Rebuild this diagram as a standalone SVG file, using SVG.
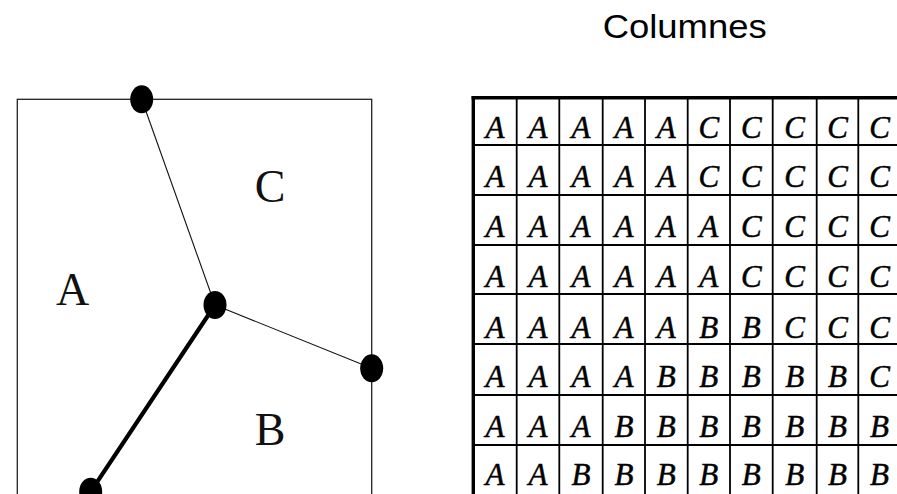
<svg xmlns="http://www.w3.org/2000/svg" width="897" height="494" viewBox="0 0 897 494">
<style>
.frame{fill:none;stroke:#222;stroke-width:1.3}
.thin{stroke:#111;stroke-width:1.1;fill:none}
.thick{stroke:#000;stroke-width:4.2;fill:none}
.dot{fill:#000}
.region{font-family:"Liberation Serif",serif;font-size:46px;fill:#111;text-anchor:middle}
.title{font-family:"Liberation Sans",Arial,sans-serif;font-size:32.5px;fill:#000}
.cell{font-family:"Liberation Serif",serif;font-style:italic;font-size:31px;fill:#000;stroke:#000;stroke-width:0.5;text-anchor:middle}
.grid{stroke:#000;stroke-width:1.8}
.border{stroke:#000;stroke-width:3.4}
</style>
<rect width="897" height="494" fill="#fff"/>

<g id="map">
  <rect class="frame" x="17.3" y="99.3" width="354.4" height="420"/>
  <text class="region" x="72.5" y="305">A</text>
  <text class="region" x="270" y="201.7">C</text>
  <text class="region" x="270" y="445">B</text>
</g>

<g id="connectors">
  <line class="thin" x1="141.7" y1="99.3" x2="215" y2="305"/>
  <line class="thin" x1="215" y1="305" x2="371.7" y2="368.3"/>
  <line class="thick" x1="215" y1="305" x2="90.7" y2="491.7"/>
</g>

<g id="node-top"><ellipse class="dot" cx="141.7" cy="99.3" rx="11.5" ry="14"/></g>
<g id="node-center"><ellipse class="dot" cx="215" cy="305" rx="11.5" ry="14"/></g>
<g id="node-right"><ellipse class="dot" cx="371.7" cy="368.3" rx="11.5" ry="14"/></g>
<g id="node-bottom"><ellipse class="dot" cx="90.7" cy="491.7" rx="11.5" ry="14"/></g>

<g id="title">
  <text class="title" x="602.7" y="38.3" textLength="164" lengthAdjust="spacingAndGlyphs">Columnes</text>
</g>

<g id="table">
  <g class="grid">
    <line x1="516.7" y1="98" x2="516.7" y2="494"/>
    <line x1="559.3" y1="98" x2="559.3" y2="494"/>
    <line x1="602.7" y1="98" x2="602.7" y2="494"/>
    <line x1="645" y1="98" x2="645" y2="494"/>
    <line x1="687.7" y1="98" x2="687.7" y2="494"/>
    <line x1="730" y1="98" x2="730" y2="494"/>
    <line x1="772.7" y1="98" x2="772.7" y2="494"/>
    <line x1="816.7" y1="98" x2="816.7" y2="494"/>
    <line x1="858.3" y1="98" x2="858.3" y2="494"/>
    <line x1="473" y1="145" x2="897" y2="145"/>
    <line x1="473" y1="195" x2="897" y2="195"/>
    <line x1="473" y1="245" x2="897" y2="245"/>
    <line x1="473" y1="294" x2="897" y2="294"/>
    <line x1="473" y1="344" x2="897" y2="344"/>
    <line x1="473" y1="395" x2="897" y2="395"/>
    <line x1="473" y1="445" x2="897" y2="445"/>
  </g>
  <g class="border">
    <line x1="471.6" y1="97.7" x2="897" y2="97.7"/>
    <line x1="473.3" y1="96" x2="473.3" y2="494"/>
  </g>
  <g class="cell">
    <text y="138.3"><tspan x="495">A</tspan><tspan x="538">A</tspan><tspan x="581">A</tspan><tspan x="624">A</tspan><tspan x="666.3">A</tspan><tspan x="708.8">C</tspan><tspan x="751.3">C</tspan><tspan x="794.7">C</tspan><tspan x="837.5">C</tspan><tspan x="879.5">C</tspan></text>
    <text y="186.7"><tspan x="495">A</tspan><tspan x="538">A</tspan><tspan x="581">A</tspan><tspan x="624">A</tspan><tspan x="666.3">A</tspan><tspan x="708.8">C</tspan><tspan x="751.3">C</tspan><tspan x="794.7">C</tspan><tspan x="837.5">C</tspan><tspan x="879.5">C</tspan></text>
    <text y="236.7"><tspan x="495">A</tspan><tspan x="538">A</tspan><tspan x="581">A</tspan><tspan x="624">A</tspan><tspan x="666.3">A</tspan><tspan x="708.8">A</tspan><tspan x="751.3">C</tspan><tspan x="794.7">C</tspan><tspan x="837.5">C</tspan><tspan x="879.5">C</tspan></text>
    <text y="286.7"><tspan x="495">A</tspan><tspan x="538">A</tspan><tspan x="581">A</tspan><tspan x="624">A</tspan><tspan x="666.3">A</tspan><tspan x="708.8">A</tspan><tspan x="751.3">C</tspan><tspan x="794.7">C</tspan><tspan x="837.5">C</tspan><tspan x="879.5">C</tspan></text>
    <text y="338.3"><tspan x="495">A</tspan><tspan x="538">A</tspan><tspan x="581">A</tspan><tspan x="624">A</tspan><tspan x="666.3">A</tspan><tspan x="708.8">B</tspan><tspan x="751.3">B</tspan><tspan x="794.7">C</tspan><tspan x="837.5">C</tspan><tspan x="879.5">C</tspan></text>
    <text y="387.3"><tspan x="495">A</tspan><tspan x="538">A</tspan><tspan x="581">A</tspan><tspan x="624">A</tspan><tspan x="666.3">B</tspan><tspan x="708.8">B</tspan><tspan x="751.3">B</tspan><tspan x="794.7">B</tspan><tspan x="837.5">B</tspan><tspan x="879.5">C</tspan></text>
    <text y="436.7"><tspan x="495">A</tspan><tspan x="538">A</tspan><tspan x="581">A</tspan><tspan x="624">B</tspan><tspan x="666.3">B</tspan><tspan x="708.8">B</tspan><tspan x="751.3">B</tspan><tspan x="794.7">B</tspan><tspan x="837.5">B</tspan><tspan x="879.5">B</tspan></text>
    <text y="485"><tspan x="495">A</tspan><tspan x="538">A</tspan><tspan x="581">B</tspan><tspan x="624">B</tspan><tspan x="666.3">B</tspan><tspan x="708.8">B</tspan><tspan x="751.3">B</tspan><tspan x="794.7">B</tspan><tspan x="837.5">B</tspan><tspan x="879.5">B</tspan></text>
  </g>
</g>
</svg>
